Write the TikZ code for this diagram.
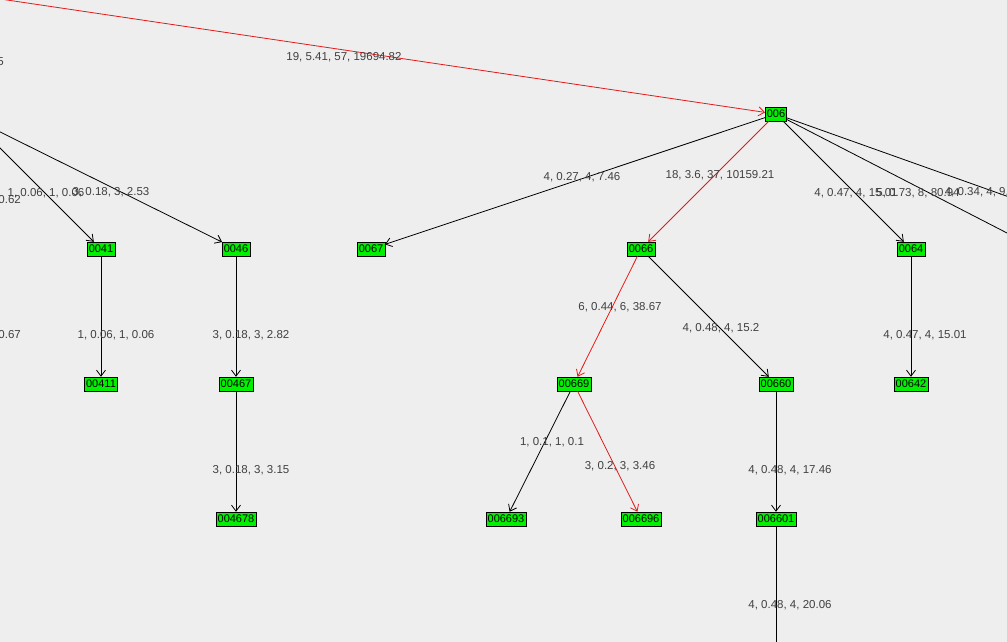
\documentclass[tikz,border=0pt]{standalone}
\usepackage{fontspec}
\setmainfont{Liberation Sans}
\usetikzlibrary{arrows.meta}
\definecolor{bgcol}{HTML}{EEEEEE}
\definecolor{nodecol}{HTML}{00F000}
\definecolor{redline}{HTML}{E41A1A}
\begin{document}
\begin{tikzpicture}[x=1pt, y=-1pt,
    box/.style={draw=black, fill=nodecol, inner sep=1.5pt, minimum height=14pt, font=\fontsize{11}{11}\selectfont},
    lab/.style={font=\fontsize{11.5}{12}\selectfont, text=black!75, inner sep=0pt},
    edge/.style={-{Straight Barb[length=6pt,width=9pt]}, black, line width=0.8pt},
    redge/.style={-{Straight Barb[length=6pt,width=9pt]}, redline, line width=0.8pt}
    ]
    \fill[bgcol] (0,0) rectangle (1007,642);
    \useasboundingbox (0,0) rectangle (1007,642);
    \clip (0,0) rectangle (1007,642);

    %Nodes
    \node[box] at (776,114) (n006) {006};
    \node[box] at (371,249) (n0067) {0067};
    \node[box] at (641,249) (n0066) {0066};
    \node[box] at (911,249) (n0064) {0064};
    \node[box] at (101,249) (n0041) {0041};
    \node[box] at (236,249) (n0046) {0046};
    \node[box] at (101,384) (n00411) {00411};
    \node[box] at (236,384) (n00467) {00467};
    \node[box] at (236,519) (n004678) {004678};
    \node[box] at (574,384) (n00669) {00669};
    \node[box] at (776,384) (n00660) {00660};
    \node[box] at (911,384) (n00642) {00642};
    \node[box] at (506,519) (n006693) {006693};
    \node[box] at (641,519) (n006696) {006696};
    \node[box] at (776,519) (n006601) {006601};

    %Off-screen ends
    \coordinate (src) at (-20,-4);
    \coordinate (left1) at (-20,128);
    \coordinate (left2) at (-20,122);
    \coordinate (right1) at (1040,250);
    \coordinate (right2) at (1040,208);
    \coordinate (down) at (776,660);

    %Lines
    \draw[redge] (src) -- (n006);
    \draw[edge] (left1) -- (n0041);
    \draw[edge] (left2) -- (n0046);
    \draw[edge] (n006) -- (n0067);
    \draw[redge] (n006) -- (n0066);
    \draw[edge] (n006) -- (n0064);
    \draw[black, line width=0.8pt] (n006) -- (right1);
    \draw[black, line width=0.8pt] (n006) -- (right2);
    \draw[edge] (n0041) -- (n00411);
    \draw[edge] (n0046) -- (n00467);
    \draw[edge] (n00467) -- (n004678);
    \draw[redge] (n0066) -- (n00669);
    \draw[edge] (n0066) -- (n00660);
    \draw[edge] (n0064) -- (n00642);
    \draw[edge] (n00669) -- (n006693);
    \draw[redge] (n00669) -- (n006696);
    \draw[edge] (n00660) -- (n006601);
    \draw[black, line width=0.8pt] (n006601) -- (down);

    %Labels
    \node[lab] at (344,57) (l1) {19, 5.41, 57, 19694.82};
    \node[lab, anchor=east] at (4,62) (l2) {5};
    \node[lab, anchor=east] at (21,200) (l3) {0.62};
    \node[lab] at (46,193) (l4) {1, 0.06, 1, 0.06};
    \node[lab] at (111,192) (l5) {3, 0.18, 3, 2.53};
    \node[lab, anchor=east] at (21,335) (l6) {0.67};
    \node[lab] at (582,177) (l7) {4, 0.27, 4, 7.46};
    \node[lab] at (720,175) (l8) {18, 3.6, 37, 10159.21};
    \node[lab] at (856,193) (l9) {4, 0.47, 4, 15.01};
    \node[lab] at (918,193) (l10) {5, 0.73, 8, 80.94};
    \node[lab] at (980,192) (l11) {4, 0.34, 4, 9.1};
    \node[lab] at (116,335) (l12) {1, 0.06, 1, 0.06};
    \node[lab] at (251,335) (l13) {3, 0.18, 3, 2.82};
    \node[lab] at (620,307) (l14) {6, 0.44, 6, 38.67};
    \node[lab] at (721,328) (l15) {4, 0.48, 4, 15.2};
    \node[lab] at (925,335) (l16) {4, 0.47, 4, 15.01};
    \node[lab] at (251,470) (l17) {3, 0.18, 3, 3.15};
    \node[lab] at (552,442) (l18) {1, 0.1, 1, 0.1};
    \node[lab] at (620,466) (l19) {3, 0.2, 3, 3.46};
    \node[lab] at (790,470) (l20) {4, 0.48, 4, 17.46};
    \node[lab] at (790,605) (l21) {4, 0.48, 4, 20.06};
\end{tikzpicture}
\end{document}
